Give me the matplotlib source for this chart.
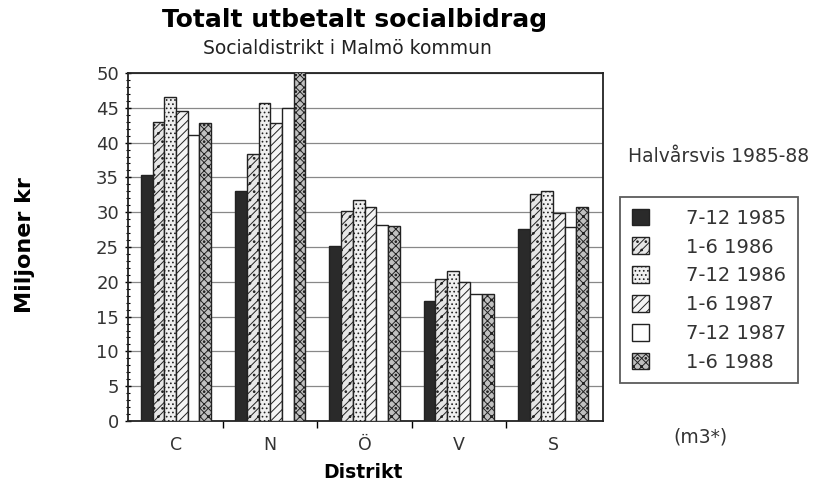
import matplotlib
matplotlib.use("Agg")
import matplotlib.pyplot as plt
import numpy as np
from matplotlib.ticker import MultipleLocator

districts = ["C", "N", "Ö", "V", "S"]
periods = ["7-12 1985", "1-6 1986", "7-12 1986", "1-6 1987", "7-12 1987", "1-6 1988"]
v_7_12_1985 = [35.4, 33.0, 25.1, 17.3, 27.6]
v_1_6_1986 = [43.0, 38.4, 30.2, 20.4, 32.6]
v_7_12_1986 = [46.5, 45.7, 31.7, 21.5, 33.0]
v_1_6_1987 = [44.6, 42.8, 30.7, 19.9, 29.9]
v_7_12_1987 = [41.1, 45.0, 28.2, 18.3, 27.9]
v_1_6_1988 = [42.8, 51.0, 28.0, 18.3, 30.8]
series = [v_7_12_1985, v_1_6_1986, v_7_12_1986, v_1_6_1987, v_7_12_1987, v_1_6_1988]

styles = [
    dict(facecolor="#2a2a2a", hatch=None),
    dict(facecolor="#e6e6e6", hatch="////.."),
    dict(facecolor="#f0f0f0", hatch="...."),
    dict(facecolor="#f4f4f4", hatch="////"),
    dict(facecolor="white", hatch=None),
    dict(facecolor="#c0c0c0", hatch="xxxx.."),
]

plt.rcParams['font.family'] = ['DejaVu Sans']
plt.rcParams['hatch.color'] = '#555555'
plt.rcParams['hatch.linewidth'] = 0.7

fig = plt.figure(figsize=(8.2, 4.83), dpi=100)
ax = fig.add_axes([128/820, 1-421/483, (603-128)/820, (421-73)/483])

x = np.arange(len(districts))
w = 0.124
for i, (vals, st) in enumerate(zip(series, styles)):
    ax.bar(x + (i - 2.5) * w, vals, width=w, facecolor=st["facecolor"],
           hatch=st["hatch"], edgecolor="#222222", linewidth=1.0,
           label=periods[i], zorder=3)

ax.set_xlim(-0.51, 4.53)
ax.set_ylim(0, 50)
ax.yaxis.set_major_locator(MultipleLocator(5))
ax.yaxis.set_minor_locator(MultipleLocator(1))
ax.grid(axis="y", which="major", color="#888888", linewidth=0.9, zorder=0)
ax.set_xticks(x)
ax.set_xticklabels(districts, fontsize=12.5, color="#333333")
ax.set_xticks(np.arange(0.5, 4.5, 1.0), minor=True)
ax.tick_params(axis="x", which="major", length=0, pad=11)
ax.tick_params(axis="x", which="minor", length=5, direction="out", width=1)
ax.tick_params(axis="y", which="major", length=5, direction="inout", labelsize=13,
               labelcolor="#333333", width=1, pad=4)
ax.tick_params(axis="y", which="minor", length=3, direction="inout", width=0.8)
for s in ax.spines.values():
    s.set_linewidth(1.3)
    s.set_color("#222222")

fig.text(363/820, 1-473/483, "Distrikt", fontsize=13.5, fontweight="bold",
         ha="center", va="center")
fig.text(25/820, 1-245/483, "Miljoner kr", rotation=90, fontsize=16,
         fontweight="heavy", ha="center", va="center")

fig.text(355/820, 1-20/483, "Totalt utbetalt socialbidrag", fontsize=18,
         fontweight="bold", ha="center", va="center")
fig.text(347/820, 1-48/483, "Socialdistrikt i Malmö kommun", fontsize=13.5,
         ha="center", va="center", color="#222222")

fig.text(719/820, 1-156/483, "Halvårsvis 1985-88", fontsize=13.5,
         ha="center", va="center", color="#333333")
fig.text(700/820, 1-437/483, "(m3*)", fontsize=13.5,
         ha="center", va="center", color="#333333")

leg = fig.legend(loc="upper left", bbox_to_anchor=(620/820, 1-197/483),
                 fontsize=14, frameon=True, fancybox=False, edgecolor="#333333",
                 handlelength=0.9, handleheight=0.95, handletextpad=1.9,
                 labelspacing=0.5, borderpad=0.6, borderaxespad=0)
leg.get_frame().set_linewidth(1.3)
for t in leg.get_texts():
    t.set_color("#333333")

fig.savefig("out.png", dpi=100)
